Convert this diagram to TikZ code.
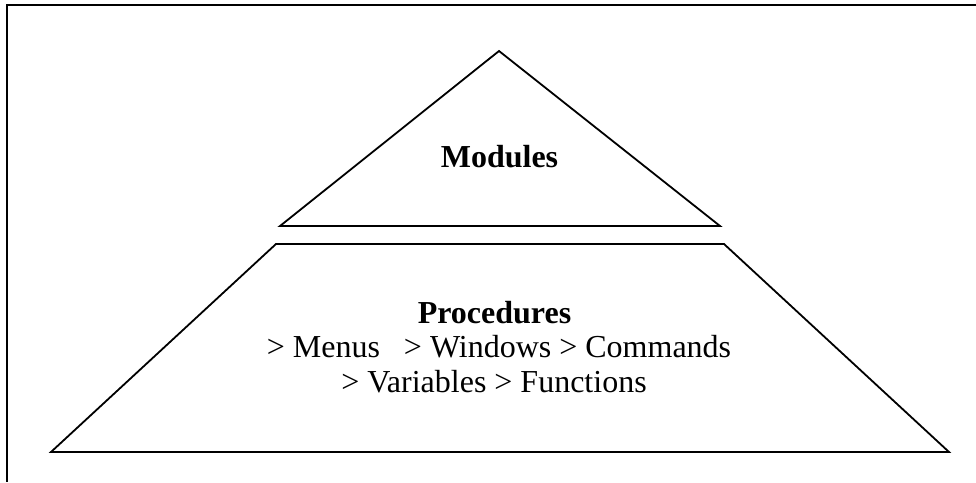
\documentclass[tikz,border=0pt]{standalone}
\usepackage{fontspec}
\setmainfont{Liberation Serif}
\usetikzlibrary{positioning}

\tikzset{
    edge/.style={line width=1.8pt, black, line join=miter},
    label text/.style={inner sep=0pt, font=\fontsize{32}{34.5}\selectfont},
    title text/.style={label text, font=\fontsize{32}{34.5}\selectfont\bfseries}
}

\begin{document}
\begin{tikzpicture}[x=1pt, y=-1pt]
        \useasboundingbox (0, 0) rectangle (976, 482);
        % Frame
        \draw [edge] (976, 5) -- (7, 5) -- (7, 482);
        % Top level
        \draw [edge] (280, 226) -- (720, 226) -- (499, 51) -- cycle;
        % Bottom level
        \draw [edge] (276, 244) -- (724, 244) -- (949, 452) -- (51, 452) -- cycle;
        % Labels
        \node [title text, anchor=base] (modules) at (499.5, 167) {Modules};
        \node [title text, anchor=base] (procedures) at (494.5, 323) {Procedures};
        \node [label text, anchor=base] (procA) at (499, 357) {> Menus \ \ > Windows > Commands};
        \node [label text, anchor=base] (procB) at (494, 392) {> Variables > Functions};
    \end{tikzpicture}
\end{document}
